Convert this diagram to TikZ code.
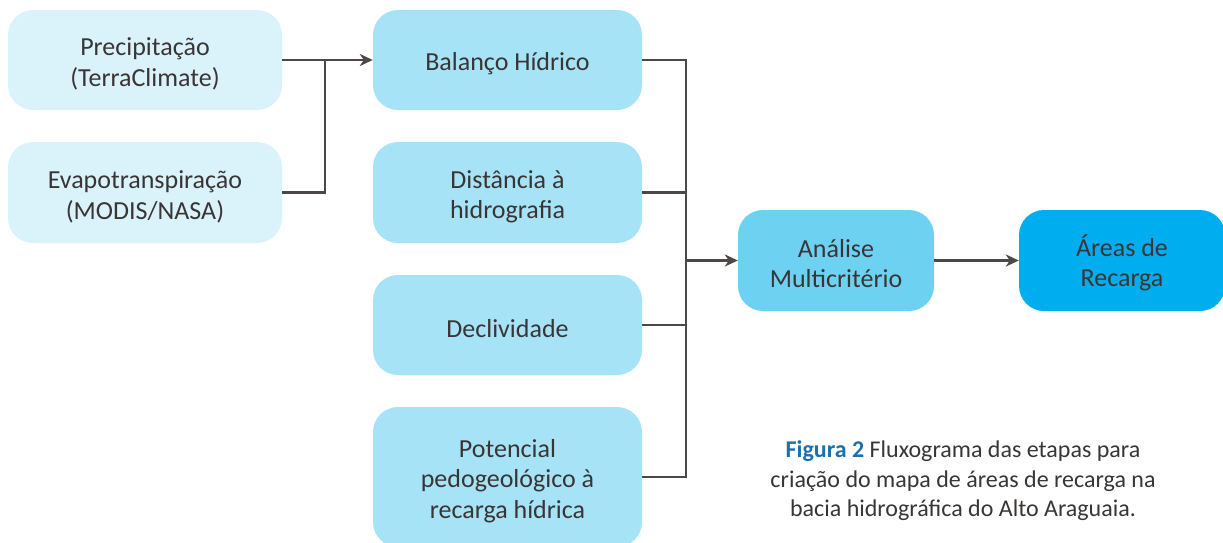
\documentclass[tikz,border=0pt]{standalone}
\usepackage{fontspec}
\setmainfont{Carlito}
\usetikzlibrary{arrows.meta}
\definecolor{lite}{HTML}{DAF3FB}
\definecolor{mid}{HTML}{A6E3F7}
\definecolor{dark}{HTML}{6DD2F2}
\definecolor{deep}{HTML}{00AEEF}
\definecolor{line}{HTML}{4D4848}
\definecolor{capblue}{HTML}{1B70AE}
\definecolor{txt}{HTML}{3A3535}
\newcommand\lnst{\rule[-2pt]{0pt}{28pt}}
\tikzset{
  box/.style={rounded corners=25pt, inner sep=0pt, align=center, text=txt,
    font=\fontsize{26}{30}\selectfont},
  conn/.style={draw=line, line width=2.6pt},
  arr/.style={conn, -{Stealth[length=13pt,width=12pt,inset=4pt]}},
}
\begin{document}
\begin{tikzpicture}[x=1pt,y=-1pt]
\useasboundingbox (0,0) rectangle (1223,542);
% boxes
\node[box, fill=lite, minimum width=274pt, minimum height=100pt] (prec) at (145,60) {\lnst Precipitação\\\lnst(TerraClimate)};
\node[box, fill=lite, minimum width=274pt, minimum height=101pt] (evap) at (145,192.5) {\lnst Evapotranspiração\\\lnst(MODIS/NASA)};
\node[box, fill=mid, minimum width=269pt, minimum height=100pt] (bal) at (507.5,60) {\lnst Balanço Hídrico};
\node[box, fill=mid, minimum width=269pt, minimum height=101pt] (dist) at (507.5,192.5) {\lnst Distância à\\\lnst hidrografia};
\node[box, fill=mid, minimum width=269pt, minimum height=100pt] (decl) at (507.5,325) {\lnst Declividade};
\node[box, fill=mid, minimum width=269pt, minimum height=140pt] (pot) at (507.5,477) {\lnst Potencial\\\lnst pedogeológico à\\\lnst recarga hídrica};
\node[box, fill=dark, minimum width=196pt, minimum height=101pt] (ana) at (836,260.5) {\lnst Análise\\\lnst Multicritério};
\node[box, fill=deep, minimum width=206pt, minimum height=101pt] (are) at (1122,260.5) {\lnst Áreas de\\\lnst Recarga};
% connectors
\coordinate (j1) at (325,60);
\coordinate (bus) at (686,260.5);
\draw[conn] (evap.east) -| (j1);
\draw[arr] (prec.east) -- (bal.west);
\draw[conn] (bal.east) -| (bus |- pot.east) -- (pot.east);
\draw[conn] (dist.east) -- (dist.east -| bus);
\draw[conn] (decl.east) -- (decl.east -| bus);
\draw[arr] (bus) -- (ana.west);
\draw[arr] (ana.east) -- (are.west);
% caption
\node[align=center, text=txt, font=\fontsize{24}{29.5}\selectfont] (cap) at (963,481)
  {{\bfseries\color{capblue}Figura 2} Fluxograma das etapas para\\criação do mapa de áreas de recarga na\\bacia hidrográfica do Alto Araguaia.};
\end{tikzpicture}
\end{document}
